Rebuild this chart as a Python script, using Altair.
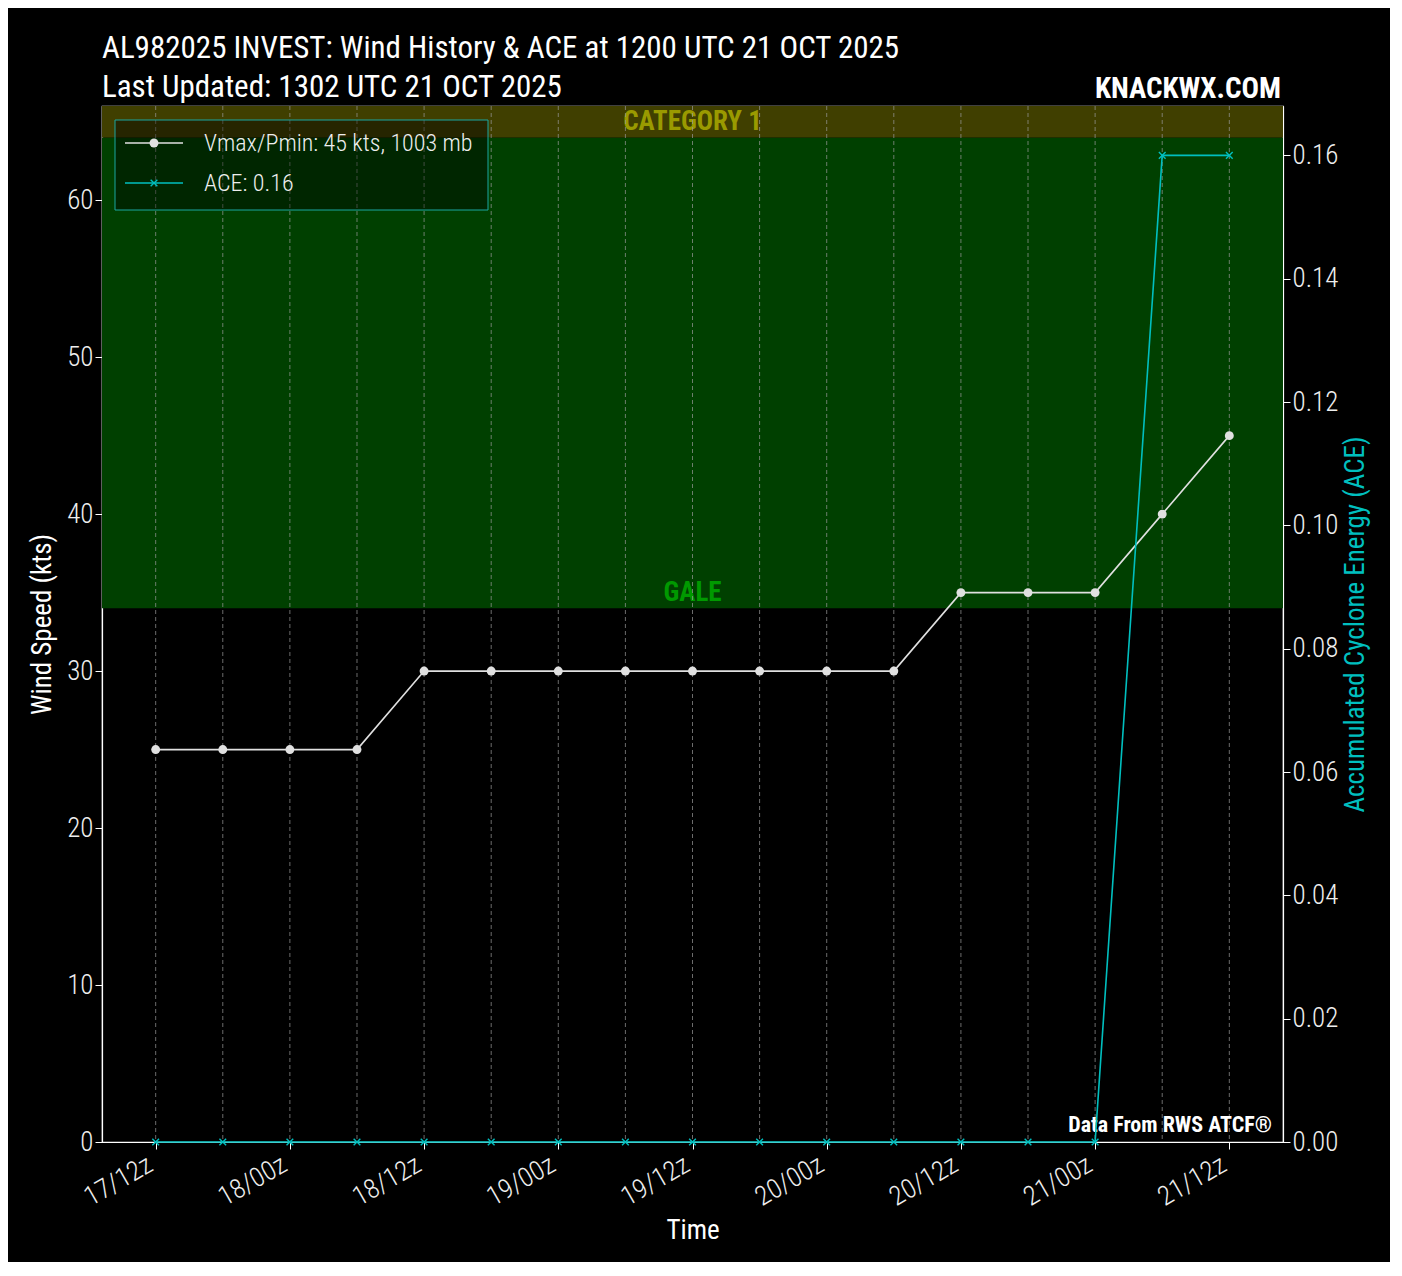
import altair as alt
import pandas as pd

# ---- data ----
hours = [0, 6, 12, 18, 24, 30, 36, 42, 48, 54, 60, 66, 72, 78, 84, 90, 96]
wind = [25, 25, 25, 25, 30, 30, 30, 30, 30, 30, 30, 30, 35, 35, 35, 40, 45]
ace = [0.0] * 15 + [0.16, 0.16]
tick_hours = [0, 12, 24, 36, 48, 60, 72, 84, 96]
tick_labels = ["17/12z", "18/00z", "18/12z", "19/00z", "19/12z", "20/00z", "20/12z", "21/00z", "21/12z"]
wind_ticks = [0, 10, 20, 30, 40, 50, 60]
ace_ticks = [0.0, 0.02, 0.04, 0.06, 0.08, 0.10, 0.12, 0.14, 0.16]
band_lo = [34, 64]
band_hi = [64, 66]
band_name = ["GALE", "CATEGORY 1"]
band_label_y = [35, 65]
band_fill = ["#004000", "#403f00"]
band_text = ["#009900", "#9a9a00"]

title1 = "AL982025 INVEST: Wind History & ACE at 1200 UTC 21 OCT 2025"
title2 = "Last Updated: 1302 UTC 21 OCT 2025"
brand = "KNACKWX.COM"
credit = "Data From RWS ATCF®"
leg_wind = "Vmax/Pmin: 45 kts, 1003 mb"
leg_ace = "ACE: 0.16"

W, H = 1181, 1036
FONT = "Roboto Condensed, Roboto, sans-serif"
WIND_C = "#e0e0e0"
ACE_C = "#00bfbf"
XSHAPE = "M-1,-1L1,1M-1,1L1,-1"

df = pd.DataFrame({"h": hours, "wind": wind, "ace": ace})
bands = pd.DataFrame({"lo": band_lo, "hi": band_hi, "name": band_name,
                      "ly": band_label_y, "fill": band_fill, "tc": band_text})
one = pd.DataFrame({"a": [0]})

label_expr = "[" + ",".join("'%s'" % s for s in tick_labels) + "][datum.value / 12]"

X = alt.X("h:Q",
          scale=alt.Scale(domain=[-4.8, 100.8], nice=False, zero=False),
          axis=alt.Axis(values=tick_hours, labelExpr=label_expr, title="Time",
                        grid=False, labelAngle=-30, labelAlign="right",
                        labelBaseline="top", labelPadding=2, labelOffset=-12,
                        titleX=W / 2, titleY=88, titleBaseline="middle",
                        titleAlign="center"))

YL_scale = alt.Scale(domain=[0, 66], nice=False, zero=False)


def yl(field):
    return alt.Y(field, type="quantitative", scale=YL_scale,
                 axis=alt.Axis(values=wind_ticks, title="Wind Speed (kts)", grid=False,
                               titleAngle=270, titleX=-60, titleY=H / 2,
                               titleBaseline="middle", titleAlign="center"))


bands_rect = alt.Chart(bands).mark_rect().encode(
    x=alt.value(0), x2=alt.value(W),
    y=yl("lo"),
    y2="hi:Q",
    fill=alt.Fill("fill:N", scale=None),
)

band_labels = alt.Chart(bands).mark_text(font=FONT, fontSize=27, fontWeight="bold",
                                          baseline="middle", align="center").encode(
    x=alt.value(W / 2),
    y=yl("ly"),
    text="name:N",
    color=alt.Color("tc:N", scale=None),
)

grid = alt.Chart(df).mark_rule(color="#9a9a9a", strokeDash=[4, 3], strokeWidth=1,
                               opacity=0.7).encode(
    x=X, y=alt.value(0), y2=alt.value(H))

wind_line = alt.Chart(df).mark_line(color=WIND_C, strokeWidth=1.6).encode(x=X, y=yl("wind"))
wind_pts = alt.Chart(df).mark_point(color=WIND_C, filled=True, size=80, opacity=1).encode(
    x=X, y=yl("wind"))

# legend
leg_box = alt.Chart(one).mark_rect(fill="black", fillOpacity=0.4, stroke="#1aa6a0",
                                   strokeWidth=1).encode(
    x=alt.value(13), x2=alt.value(386), y=alt.value(14), y2=alt.value(104))
leg_l1 = alt.Chart(one).mark_rule(color=WIND_C, strokeWidth=1.6).encode(
    x=alt.value(23), x2=alt.value(81), y=alt.value(37))
leg_p1 = alt.Chart(one).mark_point(color=WIND_C, filled=True, size=80, opacity=1).encode(
    x=alt.value(52), y=alt.value(37))
leg_l2 = alt.Chart(one).mark_rule(color=ACE_C, strokeWidth=1.6).encode(
    x=alt.value(23), x2=alt.value(81), y=alt.value(77))
leg_p2 = alt.Chart(one).mark_point(color=ACE_C, shape=XSHAPE, filled=False, size=45,
                                   strokeWidth=1.4, opacity=1).encode(
    x=alt.value(52), y=alt.value(77))
leg_t1 = alt.Chart(one).mark_text(font=FONT, fontSize=24, fontWeight=300, color="#eeeeee",
                                  align="left", baseline="middle", text=leg_wind).encode(
    x=alt.value(102), y=alt.value(38))
leg_t2 = alt.Chart(one).mark_text(font=FONT, fontSize=24, fontWeight=300, color="#eeeeee",
                                  align="left", baseline="middle", text=leg_ace).encode(
    x=alt.value(102), y=alt.value(78))

# titles
t1 = alt.Chart(one).mark_text(font=FONT, fontSize=31, color="white", align="left",
                              baseline="alphabetic", text=title1).encode(
    x=alt.value(0), y=alt.value(-48))
t2 = alt.Chart(one).mark_text(font=FONT, fontSize=31, color="white", align="left",
                              baseline="alphabetic", text=title2).encode(
    x=alt.value(0), y=alt.value(-9))
t3 = alt.Chart(one).mark_text(font=FONT, fontSize=29, fontWeight="bold", color="white",
                              align="right", baseline="alphabetic", text=brand).encode(
    x=alt.value(W - 2), y=alt.value(-8))
t4 = alt.Chart(one).mark_text(font=FONT, fontSize=22, fontWeight="bold", color="white",
                              align="right", baseline="alphabetic", text=credit).encode(
    x=alt.value(W - 11), y=alt.value(H - 10))

left = alt.layer(bands_rect, band_labels, grid, wind_line, wind_pts,
                 leg_box, leg_l1, leg_p1, leg_l2, leg_p2, leg_t1, leg_t2,
                 t1, t2, t3, t4)

YR = alt.Y("ace:Q", scale=alt.Scale(domain=[0, 0.168], nice=False, zero=False),
           axis=alt.Axis(orient="right", values=ace_ticks, format=".2f", grid=False,
                         title="Accumulated Cyclone Energy (ACE)", titleColor=ACE_C,
                         titleAngle=270, titleX=72, titleY=H / 2,
                         titleBaseline="middle", titleAlign="center"))
ace_line = alt.Chart(df).mark_line(color=ACE_C, strokeWidth=1.6).encode(x=X, y=YR)
ace_pts = alt.Chart(df).mark_point(color=ACE_C, shape=XSHAPE, filled=False, size=45,
                                   strokeWidth=1.4, opacity=1).encode(x=X, y=YR)
right = alt.layer(ace_line, ace_pts)

chart = alt.layer(left, right).resolve_scale(y="independent").properties(
    width=W, height=H,
    autosize=alt.AutoSizeParams(type="none"),
    padding={"left": 94, "top": 98, "right": 107, "bottom": 120},
    background="black",
).configure_view(
    stroke="white", strokeWidth=1.2, fill=None,
).configure_axis(
    domainColor="white", domainWidth=1.2, tickColor="white", tickSize=7, tickWidth=1,
    labelColor="#eeeeee", labelFont=FONT, labelFontSize=27, labelFontWeight=300,
    titleColor="white", titleFont=FONT, titleFontSize=27, titleFontWeight="normal",
)

chart.save("out.html", embed_options={"renderer": "svg", "actions": False})
